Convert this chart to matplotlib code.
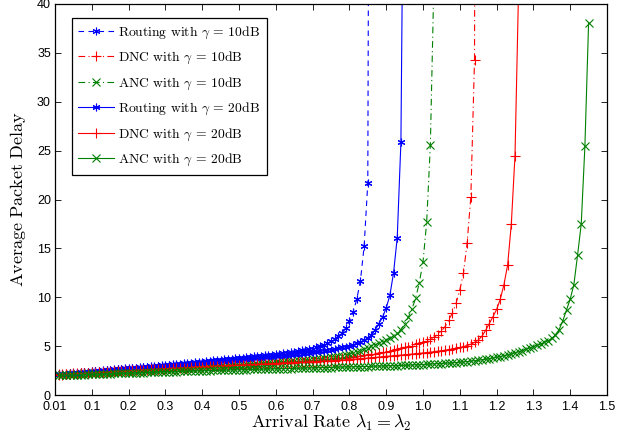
import numpy as np
import matplotlib
matplotlib.use("Agg")
import matplotlib.pyplot as plt

plt.rcParams['mathtext.fontset'] = 'cm'
plt.rcParams['font.family'] = ['Liberation Sans', 'DejaVu Sans']

# arrival-rate grid step (all series sampled at 0.01, 0.02, ...)
lam_step = 0.01

routing_10 = [2.10, 2.14, 2.17, 2.21, 2.24, 2.28, 2.31, 2.35, 2.38, 2.42,
              2.45, 2.48, 2.52, 2.55, 2.58, 2.62, 2.65, 2.68, 2.72, 2.75,
              2.78, 2.81, 2.85, 2.88, 2.91, 2.95, 2.98, 3.01, 3.05, 3.08,
              3.11, 3.15, 3.18, 3.22, 3.25, 3.28, 3.32, 3.35, 3.39, 3.42,
              3.46, 3.49, 3.53, 3.56, 3.60, 3.64, 3.67, 3.71, 3.74, 3.78,
              3.82, 3.86, 3.90, 3.94, 3.98, 4.02, 4.06, 4.10, 4.14, 4.18,
              4.23, 4.28, 4.33, 4.38, 4.44, 4.50, 4.56, 4.62, 4.68, 4.75,
              4.86, 4.98, 5.12, 5.28, 5.48, 5.72, 6.00, 6.35, 6.85, 7.55,
              8.45, 9.80, 11.70, 15.20, 21.70, 150.0]

dnc_10 = [2.10, 2.12, 2.15, 2.17, 2.20, 2.22, 2.25, 2.27, 2.30, 2.32,
          2.34, 2.37, 2.39, 2.41, 2.44, 2.46, 2.48, 2.51, 2.53, 2.55,
          2.57, 2.59, 2.61, 2.63, 2.65, 2.67, 2.69, 2.71, 2.73, 2.75,
          2.77, 2.79, 2.81, 2.83, 2.85, 2.87, 2.89, 2.91, 2.93, 2.95,
          2.97, 2.99, 3.01, 3.03, 3.05, 3.07, 3.09, 3.11, 3.13, 3.15,
          3.17, 3.19, 3.21, 3.23, 3.25, 3.27, 3.29, 3.31, 3.33, 3.35,
          3.37, 3.39, 3.41, 3.43, 3.45, 3.47, 3.49, 3.51, 3.53, 3.55,
          3.58, 3.61, 3.64, 3.67, 3.70, 3.73, 3.76, 3.79, 3.82, 3.85,
          3.90, 3.95, 4.00, 4.05, 4.11, 4.17, 4.23, 4.29, 4.36, 4.43,
          4.51, 4.59, 4.68, 4.77, 4.86, 4.96, 5.06, 5.17, 5.28, 5.40,
          5.55, 5.72, 5.92, 6.18, 6.55, 7.00, 7.65, 8.40, 9.40, 10.75,
          12.45, 15.60, 20.30, 34.30, 200.0]

anc_10 = [2.05, 2.07, 2.09, 2.12, 2.14, 2.16, 2.18, 2.21, 2.23, 2.25,
          2.27, 2.29, 2.31, 2.33, 2.35, 2.37, 2.39, 2.41, 2.43, 2.45,
          2.47, 2.49, 2.51, 2.53, 2.55, 2.57, 2.59, 2.61, 2.63, 2.65,
          2.67, 2.69, 2.72, 2.74, 2.76, 2.78, 2.80, 2.83, 2.85, 2.87,
          2.89, 2.92, 2.94, 2.96, 2.99, 3.01, 3.03, 3.05, 3.08, 3.10,
          3.12, 3.15, 3.17, 3.20, 3.22, 3.25, 3.27, 3.30, 3.32, 3.35,
          3.38, 3.41, 3.44, 3.47, 3.50, 3.53, 3.56, 3.59, 3.62, 3.65,
          3.69, 3.73, 3.77, 3.81, 3.85, 3.90, 3.95, 4.02, 4.10, 4.20,
          4.30, 4.42, 4.55, 4.70, 4.85, 5.00, 5.15, 5.30, 5.45, 5.62,
          5.80, 6.02, 6.30, 6.70, 7.25, 7.95, 8.80, 9.90, 11.50, 13.60,
          17.70, 25.60, 43.0]

routing_20 = [2.10, 2.13, 2.17, 2.20, 2.23, 2.27, 2.30, 2.33, 2.37, 2.40,
              2.43, 2.46, 2.49, 2.52, 2.55, 2.58, 2.61, 2.64, 2.67, 2.70,
              2.73, 2.76, 2.79, 2.82, 2.85, 2.88, 2.91, 2.94, 2.97, 3.00,
              3.03, 3.06, 3.09, 3.12, 3.15, 3.18, 3.21, 3.24, 3.27, 3.30,
              3.33, 3.36, 3.39, 3.42, 3.45, 3.48, 3.51, 3.54, 3.57, 3.60,
              3.64, 3.67, 3.71, 3.74, 3.78, 3.81, 3.85, 3.88, 3.92, 3.95,
              3.99, 4.03, 4.07, 4.11, 4.15, 4.19, 4.23, 4.27, 4.31, 4.35,
              4.41, 4.47, 4.53, 4.59, 4.65, 4.72, 4.79, 4.86, 4.95, 5.05,
              5.16, 5.28, 5.42, 5.60, 5.82, 6.15, 6.65, 7.30, 7.95, 8.90,
              10.20, 12.50, 16.10, 25.90, 70.0]

dnc_20 = [2.05, 2.08, 2.10, 2.13, 2.15, 2.18, 2.20, 2.23, 2.25, 2.28,
          2.30, 2.32, 2.35, 2.37, 2.39, 2.41, 2.43, 2.46, 2.48, 2.50,
          2.52, 2.54, 2.56, 2.58, 2.60, 2.62, 2.64, 2.66, 2.68, 2.70,
          2.72, 2.74, 2.76, 2.77, 2.79, 2.81, 2.83, 2.85, 2.86, 2.88,
          2.90, 2.92, 2.93, 2.95, 2.97, 2.98, 3.00, 3.02, 3.03, 3.05,
          3.07, 3.09, 3.10, 3.12, 3.14, 3.15, 3.17, 3.19, 3.20, 3.22,
          3.24, 3.26, 3.27, 3.29, 3.31, 3.33, 3.35, 3.36, 3.38, 3.40,
          3.42, 3.44, 3.46, 3.48, 3.50, 3.52, 3.55, 3.57, 3.60, 3.63,
          3.66, 3.69, 3.72, 3.75, 3.78, 3.81, 3.84, 3.88, 3.91, 3.95,
          3.98, 4.01, 4.05, 4.08, 4.11, 4.15, 4.19, 4.22, 4.26, 4.30,
          4.34, 4.38, 4.43, 4.48, 4.53, 4.58, 4.64, 4.71, 4.78, 4.86,
          4.95, 5.06, 5.20, 5.38, 5.62, 6.00, 6.60, 7.30, 8.00, 8.75,
          9.80, 11.30, 13.30, 17.50, 24.50, 42.0]

anc_20 = [2.00, 2.01, 2.03, 2.04, 2.05, 2.07, 2.08, 2.09, 2.11, 2.12,
          2.13, 2.15, 2.16, 2.17, 2.19, 2.20, 2.21, 2.22, 2.24, 2.25,
          2.26, 2.27, 2.29, 2.30, 2.31, 2.32, 2.33, 2.35, 2.36, 2.37,
          2.38, 2.39, 2.40, 2.41, 2.43, 2.44, 2.45, 2.46, 2.47, 2.48,
          2.49, 2.50, 2.51, 2.52, 2.53, 2.54, 2.55, 2.56, 2.57, 2.58,
          2.59, 2.60, 2.61, 2.62, 2.63, 2.63, 2.64, 2.65, 2.66, 2.67,
          2.68, 2.69, 2.70, 2.71, 2.72, 2.73, 2.73, 2.74, 2.75, 2.76,
          2.77, 2.78, 2.79, 2.80, 2.81, 2.82, 2.83, 2.84, 2.85, 2.86,
          2.87, 2.88, 2.89, 2.90, 2.91, 2.92, 2.93, 2.94, 2.96, 2.97,
          2.98, 2.99, 3.01, 3.02, 3.04, 3.05, 3.07, 3.08, 3.10, 3.12,
          3.14, 3.16, 3.18, 3.20, 3.22, 3.24, 3.26, 3.29, 3.32, 3.35,
          3.38, 3.42, 3.46, 3.50, 3.55, 3.60, 3.65, 3.71, 3.78, 3.85,
          3.93, 4.01, 4.10, 4.20, 4.31, 4.43, 4.55, 4.68, 4.81, 4.95,
          5.08, 5.22, 5.38, 5.55, 5.80, 6.15, 6.70, 7.60, 8.70, 9.80,
          11.30, 14.30, 17.50, 25.50, 38.10]

series_labels = [r'Routing with $\gamma$ = 10dB', r'DNC with $\gamma$ = 10dB',
                 r'ANC with $\gamma$ = 10dB', r'Routing with $\gamma$ = 20dB',
                 r'DNC with $\gamma$ = 20dB', r'ANC with $\gamma$ = 20dB']

x_ticks = [0.0, 0.1, 0.2, 0.3, 0.4, 0.5, 0.6, 0.7, 0.8, 0.9, 1.0, 1.1, 1.2, 1.3, 1.4, 1.5]
x_tick_labels = ['0.01', '0.1', '0.2', '0.3', '0.4', '0.5', '0.6', '0.7', '0.8',
                 '0.9', '1.0', '1.1', '1.2', '1.3', '1.4', '1.5']
y_ticks = [0, 5, 10, 15, 20, 25, 30, 35, 40]

blue = (0, 0, 1)
red = (1, 0, 0)
green = (0, 0.5, 0)
asterisk = (6, 2, 0)

styles = [
    (routing_10, blue, (0, (5, 4)), asterisk, 5.5),
    (dnc_10, red, (0, (6, 3, 1, 3)), '+', 6.5),
    (anc_10, green, (0, (6, 3, 1, 3)), 'x', 5.5),
    (routing_20, blue, '-', asterisk, 5.5),
    (dnc_20, red, '-', '+', 6.5),
    (anc_20, green, '-', 'x', 5.5),
]

fig = plt.figure(figsize=(6.36, 4.41), dpi=100)
ax = fig.add_axes([55 / 636, 1 - 395 / 441, 552 / 636, 391 / 441])

for (vals, col, ls, mk, ms), lab in zip(styles, series_labels):
    lam = np.round(lam_step * np.arange(1, len(vals) + 1), 2)
    ax.plot(lam, vals, color=col, linestyle=ls, linewidth=0.8, marker=mk,
            markersize=ms, markeredgewidth=0.8, markerfacecolor='none',
            markeredgecolor=col, label=lab)

ax.set_xlim(0, 1.5)
ax.set_ylim(0, 40)
ax.set_xticks(x_ticks)
ax.set_xticklabels(x_tick_labels)
ax.set_yticks(y_ticks)
ax.tick_params(direction='in', top=True, right=True, length=4, width=0.6,
               labelsize=9)
ax.tick_params(axis='x', pad=4.5)
ax.tick_params(axis='y', pad=3)
for s in ax.spines.values():
    s.set_linewidth(0.9)

ax.set_xlabel(r'$\mathrm{Arrival\ Rate}\ \lambda_1 = \lambda_2$', fontsize=13, labelpad=0)
ax.set_ylabel(r'$\mathrm{Average\ Packet\ Delay}$', fontsize=13, labelpad=6)

leg = ax.legend(loc='upper left', bbox_to_anchor=(0.03, 0.965), frameon=True,
                fancybox=False, edgecolor='black', framealpha=1,
                prop={'family': 'DejaVu Serif', 'size': 9.8},
                handlelength=2.6, handletextpad=0.3, labelspacing=0.68,
                borderpad=0.5, borderaxespad=0.0)
leg.get_frame().set_linewidth(0.9)
for t in leg.get_texts():
    t.set_fontfamily(['cmr10', 'DejaVu Serif'])

fig.savefig('out.png', dpi=100)
